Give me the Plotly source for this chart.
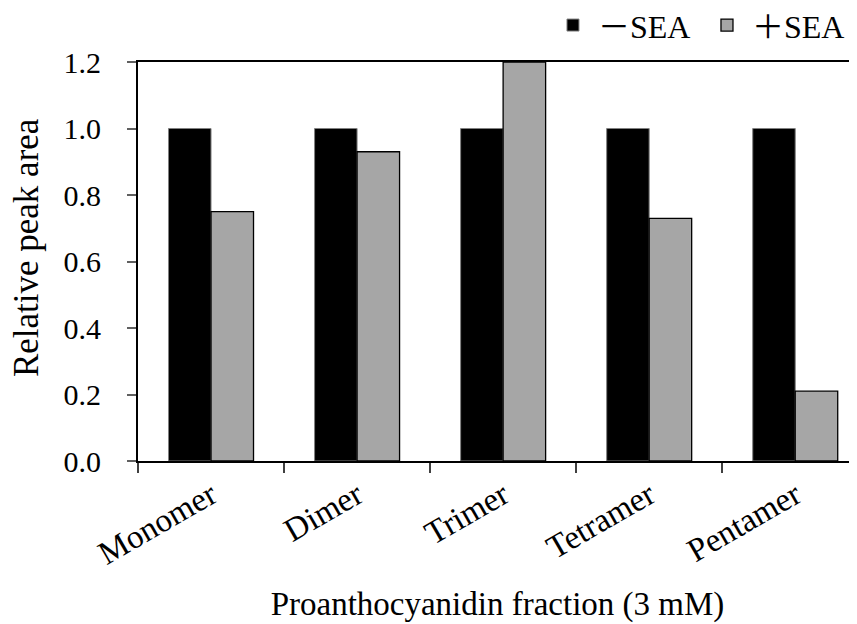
import plotly.graph_objects as go

categories = ["Monomer", "Dimer", "Trimer", "Tetramer", "Pentamer"]
minus_sea = [1.0, 1.0, 1.0, 1.0, 1.0]
plus_sea = [0.75, 0.93, 1.2, 0.73, 0.21]
y_ticks = [0.0, 0.2, 0.4, 0.6, 0.8, 1.0, 1.2]
y_tick_text = ["0.0", "0.2", "0.4", "0.6", "0.8", "1.0", "1.2"]

FONT = "Liberation Serif, Noto Sans CJK JP"

fig = go.Figure()
fig.add_trace(go.Bar(
    x=categories, y=minus_sea, name="\uff0dSEA",
    marker=dict(color="#000000", line=dict(color="#808080", width=1)),
))
fig.add_trace(go.Bar(
    x=categories, y=plus_sea, name="\uff0bSEA",
    marker=dict(color="#a6a6a6", line=dict(color="#000000", width=1.3)),
))

# page body has an 8px offset in the browser, so the figure is 8px smaller
fig.update_layout(
    width=849, height=616,
    margin=dict(l=130, r=0, t=54, b=163),
    paper_bgcolor="white", plot_bgcolor="white",
    font=dict(family=FONT, color="black", size=30),
    barmode="group", bargap=0.418, bargroupgap=0,
    showlegend=True,
    legend=dict(
        orientation="h", xref="container", yref="container",
        x=0.9988, xanchor="right", y=0.972, yanchor="middle",
        font=dict(family=FONT, size=32), itemwidth=40, entrywidth=99,
        bgcolor="rgba(0,0,0,0)", traceorder="normal",
    ),
    annotations=[dict(
        text="Relative peak area", xref="paper", yref="paper",
        x=-0.155, y=0.535, xanchor="center", yanchor="middle",
        textangle=-90, showarrow=False,
        font=dict(family=FONT, size=35, color="black"),
    )],
)

fig.update_xaxes(
    type="category", range=[-0.5, 4.423], tickson="boundaries",
    ticks="outside", ticklen=10, tickcolor="#404040", tickwidth=1.5,
    showline=True, linecolor="black", linewidth=2, mirror=True,
    showgrid=False, zeroline=False,
    tickangle=-30, tickfont=dict(family=FONT, size=33),
    title=dict(text="Proanthocyanidin fraction (3 mM)", font=dict(family=FONT, size=33), standoff=21),
    automargin=False,
)
fig.update_yaxes(
    range=[0, 1.2], tickvals=y_ticks, ticktext=y_tick_text,
    ticks="outside", ticklen=9, tickcolor="#606060", tickwidth=1.5,
    showline=True, linecolor="black", linewidth=2,
    showgrid=False, zeroline=False,
    tickfont=dict(family=FONT, size=30), ticklabelstandoff=20,
    automargin=False,
)

fig.write_html("out.html")
